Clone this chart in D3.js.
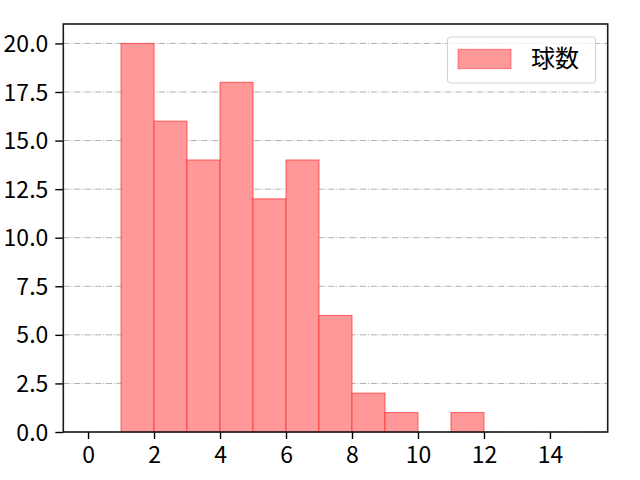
<!DOCTYPE html>
<html><head><meta charset="utf-8">
<script src="https://cdn.jsdelivr.net/npm/d3@7"></script>
<style>body{margin:0;background:#fff;} svg{display:block;}</style>
</head><body>
<svg id="c" width="640" height="480"></svg>
<script>
const binStarts = [0,1,2,3,4,5,6,7,8,9,10,11,12,13,14];
const counts    = [0,20,16,14,18,12,14,6,2,1,0,1,0,0,0];
const xTicks = [0,2,4,6,8,10,12,14];
const yTicks = [0,2.5,5,7.5,10,12.5,15,17.5,20];
const legendLabel = "球数";

const W=640,H=480, m={l:63.3,r:32.3,t:24,b:48};
const svg=d3.select("#c");
const font='"Noto Sans CJK JP","Noto Sans",sans-serif';
const x=d3.scaleLinear().domain([-0.75,15.75]).range([m.l,W-m.r]);
const y=d3.scaleLinear().domain([0,21]).range([H-m.b,m.t]);

// grid
svg.append("g").selectAll("line").data(yTicks).join("line")
  .attr("x1",m.l).attr("x2",W-m.r).attr("y1",d=>y(d)).attr("y2",d=>y(d))
  .attr("stroke","#b0b0b0").attr("stroke-width",1).attr("stroke-dasharray","6.4,1.6,1,1.6");

// bars
svg.append("g").selectAll("rect").data(binStarts.map((s,i)=>({s,c:counts[i]})).filter(d=>d.c>0)).join("rect")
  .attr("x",d=>x(d.s)).attr("width",d=>x(d.s+1)-x(d.s))
  .attr("y",d=>y(d.c)).attr("height",d=>y(0)-y(d.c))
  .attr("fill","#ff9999").attr("stroke","rgba(255,40,40,0.7)").attr("stroke-width",1);

// axes
const xa=svg.append("g").attr("transform",`translate(0,${H-m.b})`)
  .call(d3.axisBottom(x).tickValues(xTicks).tickSize(7).tickPadding(8).tickFormat(d3.format("d")));
const ya=svg.append("g").attr("transform",`translate(${m.l},0)`)
  .call(d3.axisLeft(y).tickValues(yTicks).tickSize(8).tickPadding(7).tickFormat(d3.format(".1f")));
[xa,ya].forEach(a=>{a.select(".domain").remove();
  a.selectAll("line").attr("stroke","#000").attr("stroke-width",1.4);
  a.selectAll("text").attr("font-family",font).attr("font-size",23).attr("fill","#000");});
ya.selectAll("text").attr("dy","0.35em");

svg.append("rect").attr("x",m.l).attr("y",m.t).attr("width",W-m.r-m.l).attr("height",H-m.b-m.t)
  .attr("fill","none").attr("stroke","#1a1a1a").attr("stroke-width",1.6);

// legend
const lg=svg.append("g");
lg.append("rect").attr("x",447.5).attr("y",37).attr("width",148).attr("height",46).attr("rx",3)
  .attr("fill","rgba(255,255,255,0.8)").attr("stroke","#d0d0d0");
lg.append("rect").attr("x",458).attr("y",49.3).attr("width",53).attr("height",19.4)
  .attr("fill","#ff9999").attr("stroke","rgba(255,40,40,0.5)");
lg.append("text").attr("x",531).attr("y",67).text(legendLabel)
  .attr("font-family",font).attr("font-size",24).attr("fill","#000");
</script>
</body></html>
